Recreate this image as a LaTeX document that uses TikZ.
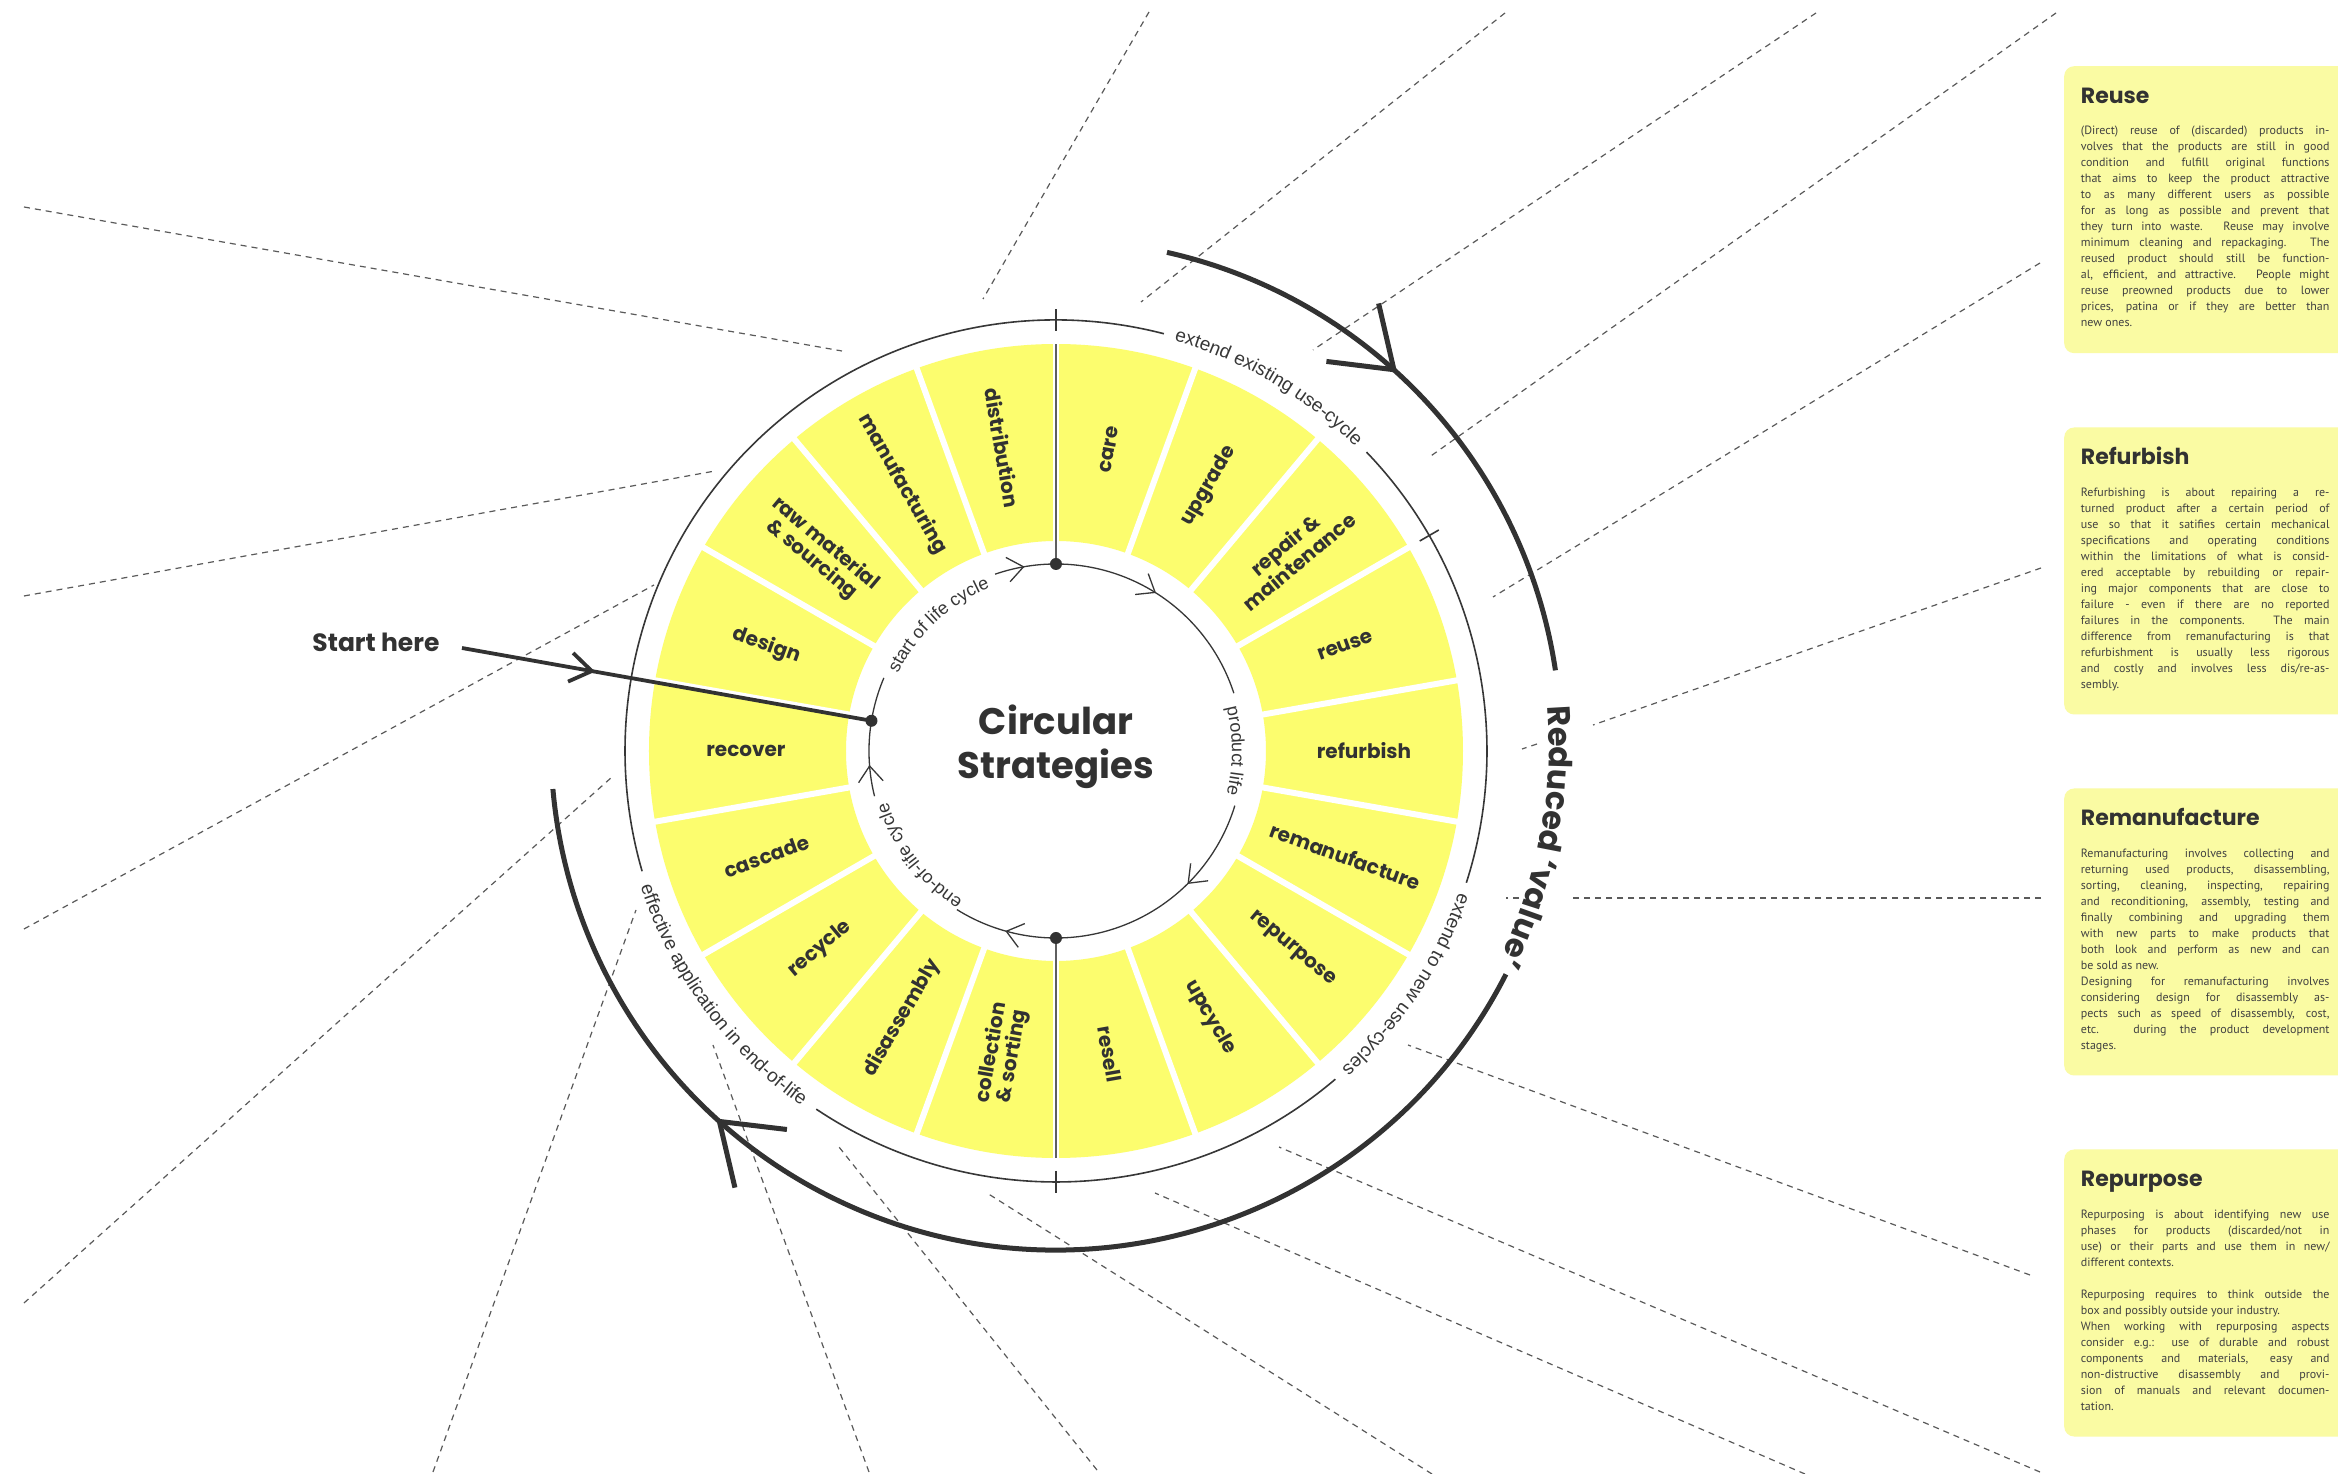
\documentclass[tikz,border=0pt]{standalone}
\usepackage{fontspec}
\usetikzlibrary{calc,decorations.text}
\newfontfamily\popfam{Poppins}
\newfontfamily\libfam{Liberation Sans}
\newfontfamily\ptfam{PT Sans}
\definecolor{segyellow}{RGB}{252,253,110}
\definecolor{boxyellow}{RGB}{250,251,163}
\definecolor{ink}{RGB}{50,50,50}
\definecolor{rayc}{RGB}{90,90,90}
\definecolor{ringc}{RGB}{55,55,55}
\definecolor{bodyc}{RGB}{65,65,65}

\newcommand\segfont{\popfam\bfseries\fontsize{20}{21}\selectfont}
\newcommand\ringfont{\libfam\fontsize{19}{19}\selectfont\color{ringc}}
\newcommand\cycfont{\libfam\fontsize{18}{18}\selectfont\color{ringc}}
\newcommand\redfont{\popfam\bfseries\fontsize{32}{32}\selectfont\color{ink}}

% justified body lines of the description cards
\newlength\bodyw \setlength\bodyw{248.6pt}
\newcommand\justln[1]{\hbox to \bodyw{#1}}
\newcommand\lastln[1]{\hbox{#1}}
\newcommand\bodyblock[1]{\vtop{\hsize=\bodyw\hbadness=10000\hfuzz=60pt\ptfam\fontsize{12}{16}\selectfont\baselineskip=16pt #1}}

% open chevron: style, tip, forward angle, arm length, half angle
\newcommand\chev[5]{\draw[#1] (#2) ++(#3+180+#5:#4) -- (#2) -- ++(#3+180-#5:#4);}

\begin{document}
\begin{tikzpicture}[x=1pt,y=1pt,line join=miter,
  ray/.style={draw=rayc,line width=1.2pt,dash pattern=on 6pt off 5pt},
  ringline/.style={draw=ringc,line width=1.6pt},
  cycline/.style={draw=ringc,line width=1.3pt},
  bigarc/.style={draw=ink,line width=5pt},
  startline/.style={draw=ink,line width=3.8pt},
  axisline/.style={draw=ringc!80,line width=1.5pt},
  hubdot/.style={circle,fill=ink,inner sep=0pt,minimum size=12pt},
  seglabel/.style={font=\segfont,text=ink,align=center,inner sep=0pt},
  infobox/.style={fill=boxyellow,rounded corners=10pt,anchor=north west,minimum width=300pt,minimum height=287pt,inner sep=0pt},
  boxtitle/.style={anchor=base west,inner sep=0pt,text=ink,font=\popfam\bfseries\fontsize{22}{22}\selectfont},
  boxbody/.style={anchor=base west,inner sep=0pt,text=bodyc},
]
\useasboundingbox (-1056,751) rectangle (1282,-723);
\clip (-1056,751) rectangle (1282,-723);
\fill[white] (-1056,751) rectangle (1282,-723);

\coordinate (C) at (0,0);
\coordinate (C2) at (0,6);

% dashed rays, one per strategy
\draw[ray] (-1032,544) -- (-214,400);
\draw[ray] (-1032,155) -- (-341,280);
\draw[ray] (-1032,-178) -- (-402,166);
\draw[ray] (-1032,-552) -- (-444,-26);
\draw[ray] (-623,-721) -- (-420,-159);
\draw[ray] (-187,-721) -- (-343,-294);
\draw[ray] (41,-719) -- (-217,-396);
\draw[ray] (376,-723) -- (-69,-442);
\draw[ray] (749,-723) -- (99,-442);
\draw[ray] (984,-721) -- (223,-396);
\draw[ray] (974,-524) -- (352,-294);
\draw[ray] (985,-147) -- (513,-147);
\draw[ray] (463,-147) -- (450,-147);
\draw[ray] (985,183) -- (537,26);
\draw[ray] (481,7) -- (466,2);
\draw[ray] (984,488) -- (437,154);
\draw[ray] (1000,738) -- (372,293);
\draw[ray] (760,738) -- (257,401);
\draw[ray] (449,738) -- (85,449);
\draw[ray] (93,739) -- (-73,452);

% description cards
\node[infobox] (boxreuse) at (1008,685) {};
\node[boxtitle] (titlereuse) at ($(boxreuse.north west)+(16.7,-37.5)$) {Reuse};
\node[boxbody] (bodyreuse) at ($(boxreuse.north west)+(16.7,-69)$) {\bodyblock{%
\justln{(Direct) reuse of (discarded) products in-}
\justln{volves that the products are still in good}
\justln{condition and fulfill original functions}
\justln{that aims to keep the product attractive}
\justln{to as many different users as possible}
\justln{for as long as possible and prevent that}
\justln{they turn into waste. Reuse may involve}
\justln{minimum cleaning and repackaging. The}
\justln{reused product should still be function-}
\justln{al, efficient, and attractive. People might}
\justln{reuse preowned products due to lower}
\justln{prices, patina or if they are better than}
\lastln{new ones.}}};

\node[infobox] (boxrefurb) at (1008,323.7) {};
\node[boxtitle] (titlerefurb) at ($(boxrefurb.north west)+(16.7,-37.5)$) {Refurbish};
\node[boxbody] (bodyrefurb) at ($(boxrefurb.north west)+(16.7,-69)$) {\bodyblock{%
\justln{Refurbishing is about repairing a re-}
\justln{turned product after a certain period of}
\justln{use so that it satifies certain mechanical}
\justln{specifications and operating conditions}
\justln{within the limitations of what is consid-}
\justln{ered acceptable by rebuilding or repair-}
\justln{ing major components that are close to}
\justln{failure - even if there are no reported}
\justln{failures in the components. The main}
\justln{difference from remanufacturing is that}
\justln{refurbishment is usually less rigorous}
\justln{and costly and involves less dis/re-as-}
\lastln{sembly.}}};

\node[infobox] (boxreman) at (1008,-37.3) {};
\node[boxtitle] (titlereman) at ($(boxreman.north west)+(16.7,-37.5)$) {Remanufacture};
\node[boxbody] (bodyreman) at ($(boxreman.north west)+(16.7,-69)$) {\bodyblock{%
\justln{Remanufacturing involves collecting and}
\justln{returning used products, disassembling,}
\justln{sorting, cleaning, inspecting, repairing}
\justln{and reconditioning, assembly, testing and}
\justln{finally combining and upgrading them}
\justln{with new parts to make products that}
\justln{both look and perform as new and can}
\lastln{be sold as new.}
\justln{Designing for remanufacturing involves}
\justln{considering design for disassembly as-}
\justln{pects such as speed of disassembly, cost,}
\justln{etc. during the product development}
\lastln{stages.}}};

\node[infobox] (boxrepur) at (1008,-398.3) {};
\node[boxtitle] (titlerepur) at ($(boxrepur.north west)+(16.7,-37.5)$) {Repurpose};
\node[boxbody] (bodyrepur) at ($(boxrepur.north west)+(16.7,-69)$) {\bodyblock{%
\justln{Repurposing is about identifying new use}
\justln{phases for products (discarded/not in}
\justln{use) or their parts and use them in new/}
\lastln{different contexts.}
\lastln{}
\justln{Repurposing requires to think outside the}
\lastln{box and possibly outside your industry.}
\justln{When working with repurposing aspects}
\justln{consider e.g.: use of durable and robust}
\justln{components and materials, easy and}
\justln{non-distructive disassembly and provi-}
\justln{sion of manuals and relevant documen-}
\lastln{tation.}}};

% reduced value arc
\draw[bigarc] ($(C2)+(77.3:505)$) arc[start angle=77.3, end angle=8.5, radius=505];
\draw[bigarc] ($(C2)+(-27:505)$) arc[start angle=-27, end angle=-175, radius=505];
\coordinate (tipa) at ($(C2)+(48:505)$);
\coordinate (tipb) at ($(C2)+(228.2:505)$);
\chev{bigarc}{tipa}{-42}{68}{35}
\chev{bigarc}{tipb}{138.2}{68}{35}
\path[decorate,decoration={text along path,
  text={|\redfont|Reduced {‘}value{’}}}]
  ($(C2)+(4.5:493)$) arc[start angle=4.5, end angle=-45, radius=493];

% outer thin ring with its labels and ticks
\draw[ringline] (75.5:431) arc[start angle=75.5, end angle=196.2, radius=431];
\draw[ringline] (236.2:431) arc[start angle=236.2, end angle=310.4, radius=431];
\draw[ringline] (-17.8:431) arc[start angle=-17.8, end angle=43.9, radius=431];
\foreach \a in {90,270,30} \draw[ringline] (\a:420) -- (\a:442);
\path[decorate,decoration={text along path,text align=center,
  text={|\ringfont|extend existing use-cycle}}]
  (75.5:427) arc[start angle=75.5, end angle=43.9, radius=427];
\path[decorate,decoration={text along path,text align=center,
  text={|\ringfont|extend to new use-cycles}}]
  (-17.8:427) arc[start angle=-17.8, end angle=-49.6, radius=427];
\path[decorate,decoration={text along path,text align=center,
  text={|\ringfont|effective application in end-of-life}}]
  (196.2:437) arc[start angle=196.2, end angle=236.2, radius=437];

% strategy segments
\fill[segyellow,even odd rule] (0,0) circle[radius=407] (0,0) circle[radius=210];
\foreach \a in {10,30,...,350} \draw[white,line width=6pt] (\a:200) -- (\a:415);
\draw[axisline] (90:187) -- (90:407);
\draw[axisline] (270:187) -- (270:407);

\node[seglabel,rotate=80] (labcare) at (80:306) {care};
\node[seglabel,rotate=60] (labupgrade) at (60:306) {upgrade};
\node[seglabel,rotate=40] (labrepair) at (40:308) {repair \&\\maintenance};
\node[seglabel,rotate=20] (labreuse) at (20:308) {reuse};
\node[seglabel,rotate=0] (labrefurb) at (0:308) {refurbish};
\node[seglabel,rotate=-20] (labreman) at (-20:308) {remanufacture};
\node[seglabel,rotate=-40] (labrepur) at (-40:308) {repurpose};
\node[seglabel,rotate=-60] (labupcycle) at (-60:308) {upcycle};
\node[seglabel,rotate=-80] (labresell) at (-80:308) {resell};
\node[seglabel,rotate=80] (labcollect) at (260:308) {collection\\\& sorting};
\node[seglabel,rotate=60] (labdisass) at (240:308) {disassembly};
\node[seglabel,rotate=40] (labrecycle) at (220:308) {recycle};
\node[seglabel,rotate=20] (labcascade) at (200:308) {cascade};
\node[seglabel,rotate=0] (labrecover) at (180:310) {recover};
\node[seglabel,rotate=-20] (labdesign) at (160:308) {design};
\node[seglabel,rotate=-40] (labraw) at (140:310) {raw material\\\& sourcing};
\node[seglabel,rotate=-60] (labmanuf) at (120:308) {manufacturing};
\node[seglabel,rotate=-80] (labdistr) at (100:308) {distribution};

% inner life-cycle loop
\draw[cycline] (109:187) arc[start angle=109, end angle=18, radius=187];
\draw[cycline] (-17:187) arc[start angle=-17, end angle=-122, radius=187];
\draw[cycline] (194:187) arc[start angle=194, end angle=157, radius=187];
\foreach \a in {100,58,-45,-105.4,184.6} {
  \coordinate (ctip) at (\a:187);
  \chev{cycline}{ctip}{\a-90}{20}{38}
}
\path[decorate,decoration={text along path,text align=center,
  text={|\cycfont|start of life cycle}}]
  (156:176) arc[start angle=156, end angle=110, radius=176];
\path[decorate,decoration={text along path,text align=center,
  text={|\cycfont|product life}}]
  (16:176) arc[start angle=16, end angle=-16, radius=176];
\path[decorate,decoration={text along path,text align=center,
  text={|\cycfont|end-of-life cycle}}]
  (239:176) arc[start angle=239, end angle=196, radius=176];

\node[hubdot] (dtop) at (90:187) {};
\node[hubdot] (dbottom) at (270:187) {};
\node[hubdot] (dstart) at (170.7:187) {};

\node[align=center,text=ink,inner sep=0pt,
  font=\popfam\bfseries\fontsize{37}{44}\selectfont] (title) at (0,4) {Circular\\Strategies};

% start marker
\node[text=ink,inner sep=0pt,font=\popfam\bfseries\fontsize{25}{25}\selectfont] (starthere) at (-680,109) {Start here};
\coordinate (stail) at (-594,103);
\draw[startline] (stail) -- (dstart.center);
\coordinate (stip) at ($(stail)!0.317!(dstart.center)$);
\chev{startline}{stip}{-10.1}{26}{34}
\end{tikzpicture}
\end{document}
